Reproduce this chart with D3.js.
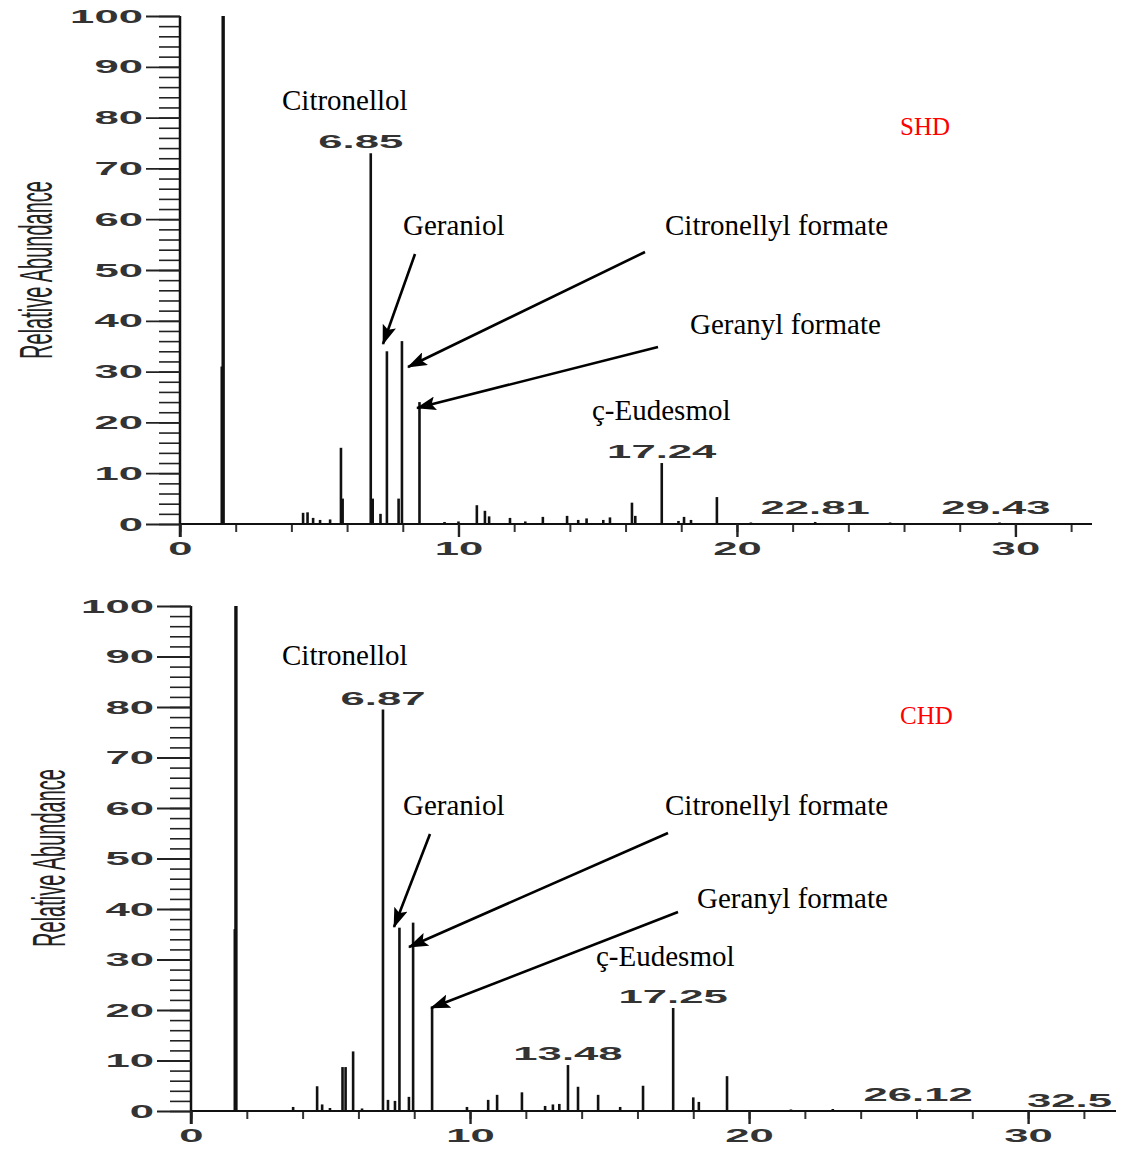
<!DOCTYPE html>
<html><head><meta charset="utf-8">
<script src="https://cdn.jsdelivr.net/npm/d3@7"></script>
<style>body{margin:0;background:#fff}svg{display:block}</style>
</head><body>
<svg id="chart" width="1124" height="1150"></svg>
<script>
// ---------------- data ----------------
const yMajorTicks = [0,10,20,30,40,50,60,70,80,90,100];
const yMinorTicks = d3.range(0, 101, 2);
const xMajorTicks = [0,10,20,30];
const xMinorTicks = d3.range(0, 33, 2);
const yAxisTitle = "Relative Abundance";
const compoundNames = ["Citronellol","Geraniol","Citronellyl formate","Geranyl formate","ç-Eudesmol"];

// SHD chromatogram: [retention time (min), relative abundance]
const shdPeaks = [[1.50,31],[1.55,100],[4.42,2.2],[4.58,2.3],[4.78,1.2],[5.03,0.8],[5.39,0.9],
  [5.78,15],[5.84,5],[6.85,73],[6.92,5],[7.2,2],[7.43,34],[7.85,5],[7.97,36],[8.6,24],
  [9.5,0.4],[10.0,0.5],[10.66,3.7],[10.95,2.6],[11.1,1.5],[11.85,1.2],[12.4,0.5],[13.03,1.4],
  [13.9,1.6],[14.3,0.8],[14.6,1.1],[15.2,0.8],[15.44,1.3],[16.23,4.2],[16.35,1.6],[17.3,12],
  [17.9,0.6],[18.1,1.4],[18.35,0.8],[19.28,5.3],[20.5,0.3],[22.81,0.4],[25.5,0.3],[29.43,0.3]];
const shdLabels = [["6.85",6.85,73],["17.24",17.3,12],["22.81",22.81,1],["29.43",29.3,1]];

// CHD chromatogram
const chdPeaks = [[1.57,36],[1.61,100],[3.66,0.8],[4.52,4.9],[4.7,1.3],[4.98,0.6],[5.43,8.7],
  [5.54,8.7],[5.81,11.8],[6.13,0.5],[6.88,79.5],[7.06,2.2],[7.31,2.0],[7.47,36.3],[7.81,2.8],
  [7.96,37.3],[8.64,20.4],[9.89,0.8],[10.65,2.2],[10.97,3.2],[11.86,3.7],[12.69,1.0],[12.97,1.3],
  [13.2,1.4],[13.51,9.1],[13.87,4.8],[14.59,3.2],[15.38,0.8],[16.2,5.0],[17.28,20.4],[18.0,2.7],
  [18.2,1.8],[19.21,6.9],[21.5,0.3],[23.0,0.4],[26.12,0.3],[32.5,0.2]];
const chdLabels = [["6.87",6.88,79.5],["13.48",13.51,9.1],["17.25",17.28,20.4],["26.12",26.06,1]];
const chdCutLabel = "32.5";

// ---------------- layout ----------------
const panels = [
  {name:"SHD", peaks:shdPeaks, labels:shdLabels, x0:180, x1:1092, tMax:32.75, yTop:16, yBot:524,
   titleX:52, titleY:270, nameX:900, nameY:135,
   comp:[[282,110],[403,235],[665,235],[690,334],[592,420]],
   arrows:[[415,254,383,344],[645,252,408,367],[658,347,417,408]], labelDx:{"6.85":-10}},
  {name:"CHD", peaks:chdPeaks, labels:chdLabels, x0:191, x1:1116, tMax:33.15, yTop:606, yBot:1111,
   titleX:65, titleY:858, nameX:900, nameY:724,
   comp:[[282,665],[403,815],[665,815],[697,908],[596,966]],
   arrows:[[430,834,394,927],[668,833,409,947],[678,912,431,1008]], labelDx:{}}
];

const svg = d3.select("#chart");
svg.append("rect").attr("width",1124).attr("height",1150).attr("fill","#fff");
const defs = svg.append("defs");
defs.append("marker").attr("id","arrow").attr("markerUnits","userSpaceOnUse")
  .attr("markerWidth",20).attr("markerHeight",14).attr("refX",19).attr("refY",7)
  .attr("orient","auto")
  .append("path").attr("d","M0,0 L20,7 L0,14 L4,7 Z").attr("fill","#000");

const SX = 2.3;          // horizontal stretch of the instrument lettering
const numFont = "'Liberation Sans', Arial, Helvetica, sans-serif";
const serif = "'Liberation Serif', 'Times New Roman', serif";
const numColor = "#333";

panels.forEach(p => {
  const x = d3.scaleLinear().domain([0, p.tMax]).range([p.x0, p.x1]);
  const y = d3.scaleLinear().domain([0, 100]).range([p.yBot, p.yTop]);
  const g = svg.append("g");

  // y axis minor
  g.append("g").attr("transform",`translate(${p.x0},0)`)
    .call(d3.axisLeft(y).tickValues(yMinorTicks).tickSize(21).tickFormat(""))
    .call(a => a.select(".domain").remove())
    .call(a => a.selectAll("line").attr("stroke","#222").attr("stroke-width",1.6));
  // y axis major
  const ya = g.append("g").attr("transform",`translate(${p.x0},0)`)
    .call(d3.axisLeft(y).tickValues(yMajorTicks).tickSize(34).tickPadding(4));
  ya.select(".domain").attr("d",`M0,${p.yTop}V${p.yBot+13}`).attr("stroke","#111").attr("stroke-width",2.5);
  ya.selectAll("line").attr("stroke","#222").attr("stroke-width",1.8);
  ya.selectAll("text").attr("font-family",numFont).attr("font-size",19).attr("font-weight","bold")
    .attr("fill",numColor).attr("x", -37/SX).attr("transform",`scale(${SX},1)`);

  // x axis minor
  g.append("g").attr("transform",`translate(0,${p.yBot})`)
    .call(d3.axisBottom(x).tickValues(xMinorTicks).tickSize(8).tickFormat(""))
    .call(a => a.select(".domain").remove())
    .call(a => a.selectAll("line").attr("stroke","#333").attr("stroke-width",2));
  // x axis major
  const xa = g.append("g").attr("transform",`translate(0,${p.yBot})`)
    .call(d3.axisBottom(x).tickValues(xMajorTicks).tickSize(13).tickPadding(5));
  xa.select(".domain").attr("d",`M${p.x0},0H${p.x1}`).attr("stroke","#111").attr("stroke-width",2.2);
  xa.selectAll("line").attr("stroke","#222").attr("stroke-width",2.4);
  xa.selectAll("text").attr("font-family",numFont).attr("font-size",19).attr("font-weight","bold")
    .attr("fill",numColor).attr("transform",`scale(${SX},1)`);

  // peaks
  g.append("g").selectAll("line").data(p.peaks).join("line")
    .attr("x1", d => x(d[0])).attr("x2", d => x(d[0]))
    .attr("y1", y(0)).attr("y2", d => y(d[1]))
    .attr("stroke","#111").attr("stroke-width", d => d[1] >= 90 ? 3.4 : 2.6);

  // peak retention-time labels
  g.append("g").selectAll("text").data(p.labels).join("text")
    .attr("transform", d => `translate(${x(d[1]) + (p.labelDx[d[0]]||0)},${y(d[2]) - 5}) scale(${SX},1)`)
    .attr("text-anchor","middle").attr("font-family",numFont).attr("font-size",19).attr("font-weight","bold")
    .attr("fill",numColor).text(d => d[0]);

  // y axis title
  g.append("text")
    .attr("transform",`translate(${p.titleX},${p.titleY}) scale(${SX},1) rotate(-90)`)
    .attr("text-anchor","middle").attr("font-family",numFont).attr("font-size",20)
    .attr("fill","#222").text(yAxisTitle);

  // compound annotations
  g.append("g").selectAll("text").data(compoundNames).join("text")
    .attr("x",(d,i)=>p.comp[i][0]).attr("y",(d,i)=>p.comp[i][1])
    .attr("font-family",serif).attr("font-size",29).attr("fill","#000").text(d=>d);

  // arrows
  g.append("g").selectAll("line").data(p.arrows).join("line")
    .attr("x1",d=>d[0]).attr("y1",d=>d[1]).attr("x2",d=>d[2]).attr("y2",d=>d[3])
    .attr("stroke","#000").attr("stroke-width",2.6).attr("marker-end","url(#arrow)");

  // sample name
  g.append("text").attr("x",p.nameX).attr("y",p.nameY)
    .attr("font-family",serif).attr("font-size",25).attr("fill","#ff0000").text(p.name);

  if (p.name === "CHD") {
    g.append("text").attr("transform",`translate(1027,${p.yBot-4}) scale(${SX},1)`)
      .attr("font-family",numFont).attr("font-size",19).attr("font-weight","bold")
      .attr("fill",numColor).text(chdCutLabel);
  }
});
</script>
</body></html>
